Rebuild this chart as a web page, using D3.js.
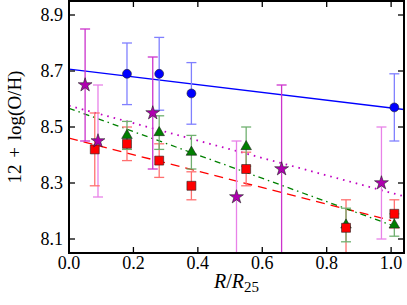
<!DOCTYPE html>
<html>
<head>
<meta charset="utf-8">
<script src="https://cdn.jsdelivr.net/npm/d3@7"></script>
<style>
  body { margin: 0; background: #fff; }
  text { font-family: "Liberation Serif", "DejaVu Serif", serif; }
</style>
</head>
<body>
<div id="chart"></div>
<script>
var width = 407;
var height = 305;
var margin = {top: 1, left: 69, right: 3, bottom: 52};

// data
var blueR = [0.18, 0.28, 0.38, 1.01];
var blueOH = [8.69, 8.69, 8.62, 8.57];
var blueErr = [0.11, 0.13, 0.11, 0.12];

var redR = [0.08, 0.18, 0.28, 0.38, 0.55, 0.86, 1.01];
var redOH = [8.42, 8.44, 8.38, 8.29, 8.35, 8.14, 8.19];
var redErr = [0.13, 0.06, 0.06, 0.05, 0.06, 0.10, 0.05];

var greenR = [0.18, 0.28, 0.38, 0.55, 0.86, 1.01];
var greenOH = [8.47, 8.48, 8.41, 8.43, 8.15, 8.15];
var greenErr = [0.05, 0.06, 0.06, 0.07, 0.06, 0.04];

var starAR = [0.05, 0.26, 0.66];
var starAOH = [8.65, 8.55, 8.35];
var starAErr = [0.20, 0.20, 0.30];

var starBR = [0.09, 0.52, 0.97];
var starBOH = [8.45, 8.25, 8.30];
var starBErr = [0.20, 0.20, 0.20];

// linear fits: [intercept, slope]
var blueFit = [8.707, -0.139];
var redFit = [8.46, -0.294];
var greenFit = [8.567, -0.417];
var magentaFit = [8.576, -0.311];

var xTicks = [0.0, 0.2, 0.4, 0.6, 0.8, 1.0];
var yTicks = [8.1, 8.3, 8.5, 8.7, 8.9];

var svg = d3.select("#chart")
  .append("svg")
  .attr("width", width)
  .attr("height", height);

var xScale = d3.scaleLinear()
  .domain([0, 1.04])
  .range([margin.left, width - margin.right]);
var yScale = d3.scaleLinear()
  .domain([8.05, 8.95])
  .range([height - margin.bottom, margin.top]);

svg.append("clipPath").attr("id", "plotclip")
  .append("rect")
  .attr("x", margin.left).attr("y", margin.top)
  .attr("width", width - margin.right - margin.left)
  .attr("height", height - margin.bottom - margin.top);

var plot = svg.append("g").attr("clip-path", "url(#plotclip)");

function zip(xs, ys, es) {
  return xs.map(function(x, i) { return {x: x, y: ys[i], e: es[i]}; });
}

// fit lines
function fitLine(fit, x0, x1, color, dash, lw) {
  plot.append("line")
    .attr("x1", xScale(x0)).attr("y1", yScale(fit[0] + fit[1] * x0))
    .attr("x2", xScale(x1)).attr("y2", yScale(fit[0] + fit[1] * x1))
    .attr("stroke", color)
    .attr("stroke-width", lw)
    .attr("stroke-dasharray", dash);
}
fitLine(blueFit, 0, 1.04, "#0000ff", null, 1.3);
fitLine(redFit, 0, 1.0, "#ff0000", "9,6", 1.3);
fitLine(greenFit, 0, 1.0, "#008000", "6,4,1.5,4", 1.3);
fitLine(magentaFit, 0, 1.04, "#c000c0", "1.6,5", 1.8);

// error bars
function errBars(data, color) {
  var g = plot.append("g").attr("stroke", color).attr("stroke-width", 1.3);
  data.forEach(function(d) {
    var cx = xScale(d.x);
    g.append("line").attr("x1", cx).attr("x2", cx)
      .attr("y1", yScale(d.y - d.e)).attr("y2", yScale(d.y + d.e));
    [d.y - d.e, d.y + d.e].forEach(function(v) {
      g.append("line").attr("x1", cx - 5).attr("x2", cx + 5)
        .attr("y1", yScale(v)).attr("y2", yScale(v));
    });
  });
}

var blue = zip(blueR, blueOH, blueErr);
var red = zip(redR, redOH, redErr);
var green = zip(greenR, greenOH, greenErr);
var starA = zip(starAR, starAOH, starAErr);
var starB = zip(starBR, starBOH, starBErr);

errBars(starA, "#cc33cc");
errBars(starB, "#e882e8");
errBars(blue, "#8080ff");
errBars(red, "#ff7070");
errBars(green, "#70b070");

// markers
function markers(data, type, size, fill) {
  plot.selectAll(null)
    .data(data)
    .enter()
    .append("path")
      .attr("d", d3.symbol().type(type).size(size))
      .attr("transform", function(d) { return "translate(" + xScale(d.x) + "," + yScale(d.y) + ")"; })
      .attr("fill", fill)
      .attr("stroke", "#222")
      .attr("stroke-width", 0.6);
}
markers(blue, d3.symbolCircle, 62, "#0000ff");
markers(green, d3.symbolTriangle, 48, "#007f00");
markers(red, d3.symbolSquare, 80, "#ff0000");
markers(starA, d3.symbolStar, 60, "#b000b0");
markers(starB, d3.symbolStar, 60, "#b000b0");

// ticks on all sides, inward
var axes = svg.append("g").attr("stroke", "#000").attr("stroke-width", 1.3);
var x0 = xScale.range()[0], x1 = xScale.range()[1];
var y0 = yScale.range()[0], y1 = yScale.range()[1];
xTicks.forEach(function(t) {
  axes.append("line").attr("x1", xScale(t)).attr("x2", xScale(t)).attr("y1", y0).attr("y2", y0 - 6);
  axes.append("line").attr("x1", xScale(t)).attr("x2", xScale(t)).attr("y1", y1).attr("y2", y1 + 6);
});
yTicks.forEach(function(t) {
  axes.append("line").attr("y1", yScale(t)).attr("y2", yScale(t)).attr("x1", x0).attr("x2", x0 + 6);
  axes.append("line").attr("y1", yScale(t)).attr("y2", yScale(t)).attr("x1", x1).attr("x2", x1 - 6);
});

svg.append("rect")
  .attr("x", x0).attr("y", y1)
  .attr("width", x1 - x0).attr("height", y0 - y1)
  .attr("fill", "none")
  .attr("stroke", "#000")
  .attr("stroke-width", 2);

// tick labels
svg.selectAll(".xlab")
  .data(xTicks)
  .enter()
  .append("text")
    .attr("x", function(d) { return xScale(d); })
    .attr("y", y0 + 16)
    .attr("text-anchor", "middle")
    .attr("font-size", 18)
    .text(function(d) { return d.toFixed(1); });

svg.selectAll(".ylab")
  .data(yTicks)
  .enter()
  .append("text")
    .attr("x", x0 - 6)
    .attr("y", function(d) { return yScale(d) + 6; })
    .attr("text-anchor", "end")
    .attr("font-size", 18)
    .text(function(d) { return d.toFixed(1); });

// axis labels
var xLabel = svg.append("text")
  .attr("x", (x0 + x1) / 2)
  .attr("y", 288)
  .attr("text-anchor", "middle")
  .attr("font-size", 20);
xLabel.append("tspan").attr("font-style", "italic").text("R");
xLabel.append("tspan").text("/");
xLabel.append("tspan").attr("font-style", "italic").text("R");
xLabel.append("tspan").attr("font-size", 15).attr("dy", 4).text("25");

svg.append("text")
  .attr("transform", "rotate(-90)")
  .attr("x", -(y0 + y1) / 2)
  .attr("y", 21)
  .attr("text-anchor", "middle")
  .attr("font-size", 19)
  .attr("word-spacing", 2)
  .text("12 + log(O/H)");
</script>
</body>
</html>
